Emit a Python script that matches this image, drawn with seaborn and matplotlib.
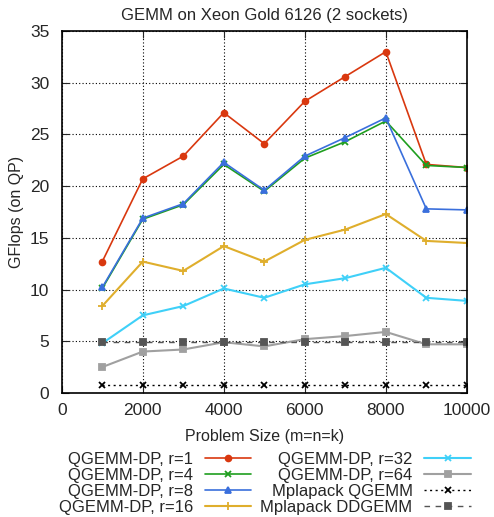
import numpy as np
import pandas as pd
import matplotlib
matplotlib.use("Agg")
import matplotlib.pyplot as plt
import seaborn as sns

sizes = [1000, 2000, 3000, 4000, 5000, 6000, 7000, 8000, 9000, 10000]
r1 = [12.7, 20.7, 22.9, 27.1, 24.1, 28.2, 30.6, 33.0, 22.1, 21.8]
r4 = [10.1, 16.8, 18.2, 22.1, 19.5, 22.7, 24.3, 26.3, 22.0, 21.8]
r8 = [10.2, 16.9, 18.3, 22.3, 19.6, 22.9, 24.7, 26.6, 17.8, 17.7]
r16 = [8.4, 12.7, 11.8, 14.2, 12.7, 14.8, 15.8, 17.3, 14.7, 14.5]
r32 = [4.8, 7.5, 8.4, 10.1, 9.2, 10.5, 11.1, 12.1, 9.2, 8.9]
r64 = [2.5, 4.0, 4.2, 4.9, 4.5, 5.2, 5.5, 5.9, 4.7, 4.7]
mpl_q = [0.8] * 10
mpl_dd = [4.9] * 10

names = ["QGEMM-DP, r=1", "QGEMM-DP, r=4", "QGEMM-DP, r=8", "QGEMM-DP, r=16",
         "QGEMM-DP, r=32", "QGEMM-DP, r=64", "Mplapack QGEMM", "Mplapack DDGEMM"]
series = [r1, r4, r8, r16, r32, r64, mpl_q, mpl_dd]

df = pd.DataFrame({
    "size": np.tile(sizes, len(names)),
    "gflops": np.concatenate(series),
    "name": np.repeat(names, len(sizes)),
})

colors = ["#d9380f", "#1f9e1f", "#3a6fdc", "#dfae2c", "#3fd0f8", "#a0a0a0", "#000000", "#555555"]
markers = ["o", "x", "^", "+", "x", "s", "x", "s"]
msizes = [4.2, 4.5, 4.2, 5.5, 4.5, 4.3, 4.0, 4.5]
dashes = [(None, None)] * 6 + [(1.5, 2.5), (4, 4)]
lws = [1.2, 1.2, 1.2, 1.5, 1.5, 1.5, 1.0, 1.0]

sns.set_style("white")
plt.rcParams['font.family'] = ['Liberation Sans', 'DejaVu Sans']

fig, ax = plt.subplots(figsize=(4.94, 5.17), dpi=100)
fig.subplots_adjust(left=0.125, right=0.945, top=0.94, bottom=0.24)

for i, nm in enumerate(names):
    sub = df[df["name"] == nm]
    kw = {}
    if dashes[i][0] is not None:
        kw["dashes"] = dashes[i]
    sns.lineplot(data=sub, x="size", y="gflops", ax=ax, color=colors[i],
                 marker=markers[i], markersize=msizes[i], linewidth=lws[i],
                 markeredgecolor=colors[i], markeredgewidth=1.3, label=nm, **kw)

ax.set_xlim(0, 10000)
ax.set_ylim(0, 35)
ax.set_xticks(range(0, 10001, 2000))
ax.set_yticks(range(0, 36, 5))
ax.grid(True, linestyle=(0, (1, 2)), color="black", linewidth=0.8)
ax.tick_params(axis="both", direction="in", length=5, top=True, right=True,
               labelsize=12.5, bottom=True, left=True)
ax.tick_params(axis="x", pad=7)
ax.tick_params(axis="y", pad=9)
for s in ax.spines.values():
    s.set_color("black")
    s.set_linewidth(1.2)
ax.set_xlabel("Problem Size (m=n=k)", fontsize=11.5, labelpad=8)
ax.set_ylabel("GFlops (on QP)", fontsize=11.5, labelpad=4)
ax.set_title("GEMM on Xeon Gold 6126 (2 sockets)", fontsize=12, pad=8)

handles, labels = ax.get_legend_handles_labels()
ax.get_legend().remove()
fig.legend(handles, labels, loc="lower center", bbox_to_anchor=(0.536, -0.009), ncol=2,
           markerfirst=False, frameon=False, fontsize=12, handlelength=2.8,
           columnspacing=0.55, labelspacing=0.06, handletextpad=0.7,
           borderaxespad=0.0)

fig.savefig("out.png", dpi=100)
